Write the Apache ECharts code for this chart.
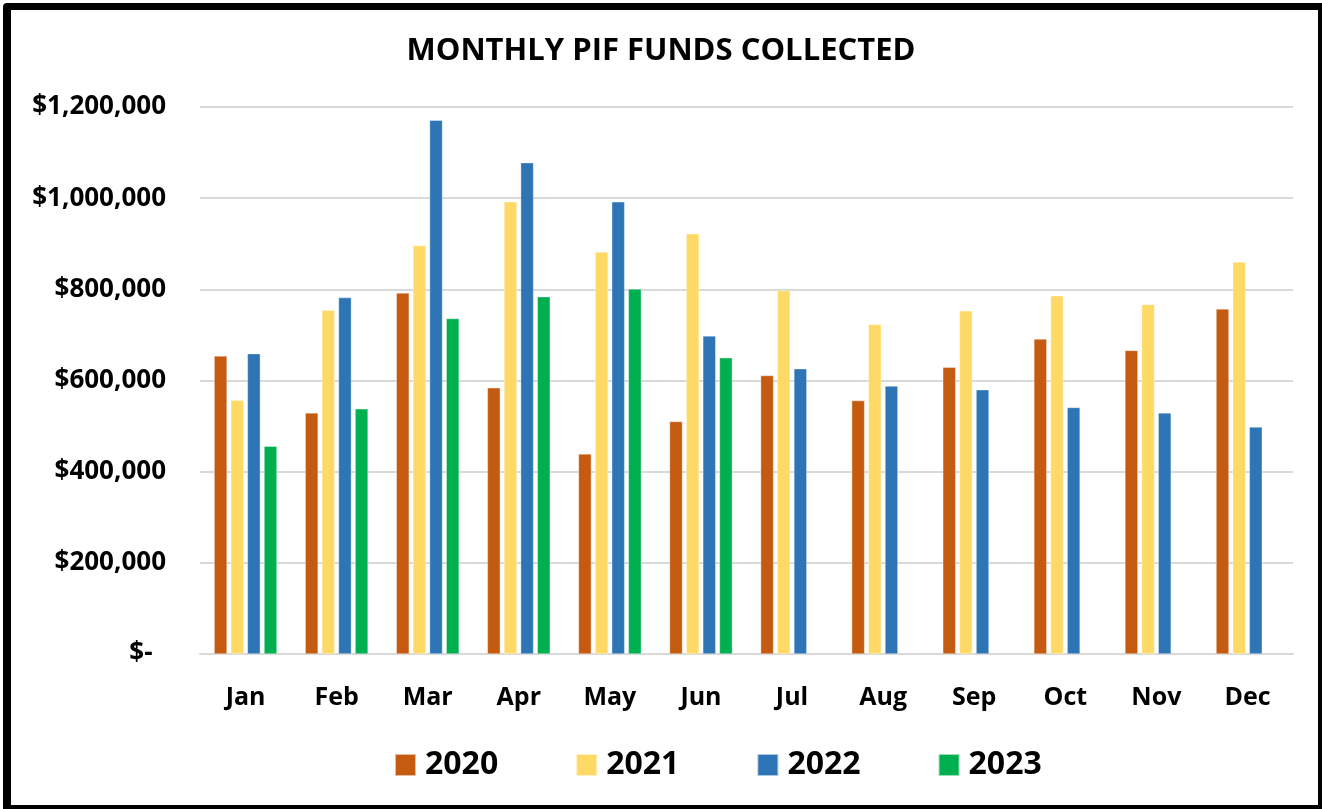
<!DOCTYPE html>
<html>
<head>
<meta charset="utf-8">
<title>Monthly PIF Funds Collected</title>
<script src="https://cdn.jsdelivr.net/npm/echarts@6/dist/echarts.min.js"></script>
<style>
  html, body { margin: 0; padding: 0; background: #fff; }
  #wrap { position: relative; width: 1322px; height: 809px; overflow: hidden; }
  #chart { position: absolute; left: 0; top: 0; width: 1322px; height: 809px; }
  .frame {
    position: absolute; left: 3px; top: 3px; right: 0; bottom: 0;
    border-left: 8px solid #000; border-top: 7px solid #000;
    border-right: 4px solid #000; border-bottom: 4px solid #000;
    border-top-left-radius: 4px;
    pointer-events: none;
  }
</style>
</head>
<body>
<div id="wrap">
  <div id="chart"></div>
  <div class="frame"></div>
</div>
<script>
// data
const months = ['Jan', 'Feb', 'Mar', 'Apr', 'May', 'Jun', 'Jul', 'Aug', 'Sep', 'Oct', 'Nov', 'Dec'];
const years = ['2020', '2021', '2022', '2023'];
const funds2020 = [654000, 529000, 792000, 584000, 439000, 510000, 611000, 556000, 629000, 691000, 666000, 757000];
const funds2021 = [557000, 754000, 896000, 992000, 882000, 922000, 797000, 723000, 753000, 786000, 767000, 860000];
const funds2022 = [659000, 782000, 1171000, 1078000, 992000, 698000, 626000, 588000, 580000, 541000, 529000, 498000];
const funds2023 = [456000, 538000, 736000, 784000, 801000, 650000, null, null, null, null, null, null];
const yTicks = [0, 200000, 400000, 600000, 800000, 1000000, 1200000];

const colors = ['#C55A11', '#FFD966', '#2E75B6', '#00B050'];
const seriesData = [funds2020, funds2021, funds2022, funds2023];
const FONT = '"Open Sans", "Liberation Sans", sans-serif';

function money(v) {
  if (v === 0) return '$-  ';
  return '$' + v.toLocaleString('en-US');
}

const chart = echarts.init(document.getElementById('chart'));
const option = {
  backgroundColor: '#fff',
  animation: false,
  title: {
    text: 'MONTHLY PIF FUNDS COLLECTED',
    left: 'center',
    top: 31,
    textStyle: { fontFamily: FONT, fontWeight: 'bold', fontSize: 31, color: '#000' }
  },
  grid: { left: 200, right: 29, top: 107, bottom: 155, containLabel: false },
  legend: {
    data: years,
    left: 389,
    top: 744,
    itemWidth: 21,
    itemHeight: 22,
    itemGap: 77,
    icon: 'rect',
    textStyle: { fontFamily: FONT, fontWeight: 'bold', fontSize: 32, color: '#000', padding: [0, 0, 0, 4] }
  },
  xAxis: {
    type: 'category',
    data: months,
    axisLine: { lineStyle: { color: '#d9d9d9', width: 2 } },
    axisTick: { show: false },
    axisLabel: { margin: 31, fontFamily: FONT, fontWeight: 'bold', fontSize: 25, color: '#000' }
  },
  yAxis: {
    type: 'value',
    min: yTicks[0],
    max: yTicks[yTicks.length - 1],
    interval: 200000,
    axisLine: { show: false },
    axisTick: { show: false },
    splitLine: { lineStyle: { color: '#d9d9d9', width: 2 } },
    axisLabel: { margin: 34, fontFamily: FONT, fontWeight: 'bold', fontSize: 26, color: '#000', formatter: money }
  },
  series: years.map((y, i) => ({
    name: y,
    type: 'bar',
    data: seriesData[i],
    barWidth: 13,
    barGap: '28%',
    itemStyle: { color: colors[i], borderColor: 'rgba(255,255,255,0.6)', borderWidth: 0.6 }
  }))
};
chart.setOption(option);
</script>
</body>
</html>
